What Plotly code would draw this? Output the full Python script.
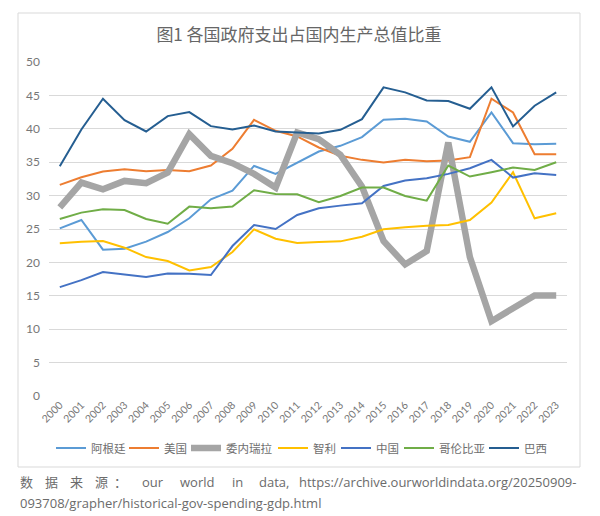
import plotly.graph_objects as go

years = [str(y) for y in range(2000, 2024)]

argentina = [25.1, 26.35, 21.9, 22.05, 23.1, 24.55, 26.6, 29.45, 30.75, 34.45, 33.25, 34.9,
             36.6, 37.45, 38.75, 41.35, 41.5, 41.1, 38.85, 38.05, 42.45, 37.85, 37.7, 37.75]
usa = [31.6, 32.75, 33.6, 33.95, 33.65, 33.85, 33.65, 34.5, 37.0, 41.35, 39.7, 38.85,
       37.2, 35.95, 35.35, 34.95, 35.35, 35.15, 35.25, 35.75, 44.5, 42.45, 36.2, 36.2]
venezuela = [28.25, 31.95, 30.95, 32.2, 31.85, 33.45, 39.2, 35.95, 34.85, 33.25, 31.2, 39.45,
             38.45, 36.1, 31.35, 23.2, 19.7, 21.7, 37.95, 20.8, 11.2, 13.05, 15.05, 15.05]
chile = [22.85, 23.1, 23.2, 22.2, 20.8, 20.2, 18.8, 19.3, 21.55, 24.95, 23.55, 22.9,
         23.05, 23.15, 23.85, 24.95, 25.25, 25.5, 25.6, 26.35, 28.95, 33.5, 26.6, 27.35]
china = [16.3, 17.35, 18.55, 18.15, 17.8, 18.35, 18.3, 18.1, 22.45, 25.6, 25.0, 27.1,
         28.1, 28.5, 28.85, 31.45, 32.25, 32.6, 33.25, 34.1, 35.35, 32.7, 33.35, 33.1]
colombia = [26.5, 27.45, 27.95, 27.85, 26.5, 25.8, 28.35, 28.1, 28.35, 30.8, 30.25, 30.2,
            29.0, 29.95, 31.2, 31.2, 29.95, 29.25, 34.5, 32.85, 33.5, 34.2, 33.85, 35.0]
brazil = [34.4, 39.9, 44.5, 41.3, 39.6, 41.9, 42.5, 40.4, 39.9, 40.5, 39.6, 39.45,
          39.3, 39.85, 41.45, 46.2, 45.45, 44.25, 44.15, 43.0, 46.2, 40.35, 43.45, 45.45]

series_names = ["阿根廷", "美国", "委内瑞拉", "智利", "中国", "哥伦比亚", "巴西"]
series_values = [argentina, usa, venezuela, chile, china, colombia, brazil]
series_colors = ["#5B9BD5", "#ED7D31", "#A5A5A5", "#FFC000", "#4472C4", "#70AD47", "#255E91"]
series_widths = [2, 2, 6.5, 2, 2, 2, 2]

title_text = "图1 各国政府支出占国内生产总值比重"
caption_line1 = ["数", "据", "来", "源", "：", "our", "world", "in", "data,"]
caption_url1 = "https://archive.ourworldindata.org/20250909-"
caption_line2 = "093708/grapher/historical-gov-spending-gdp.html"

FONT = "Lato, 'Noto Sans CJK SC', sans-serif"
CJK = "'Noto Sans CJK SC', Lato, sans-serif"
GRAY = "#6E6E6E"

# plot area geometry (pixels)
L, R, T, B = 49, 567, 62, 396
W, H = R - L, B - T


def px(x):
    return (x - L) / W


def py(y):
    return (B - y) / H


fig = go.Figure()
legend_ids = ["legend"] + ["legend%d" % i for i in range(2, len(series_names) + 1)]
for name, vals, col, w, lg in zip(series_names, series_values, series_colors,
                                  series_widths, legend_ids):
    fig.add_trace(go.Scatter(x=years, y=vals, name=name, mode="lines", legend=lg,
                             line=dict(color=col, width=w)))

# one single-item legend per series, laid out in a row like the reference
legend_line_starts = [60, 133, 195, 282, 345, 408, 493]
legend_layout = {}
for lg, x0 in zip(legend_ids, legend_line_starts):
    legend_layout[lg] = dict(orientation="h", xref="container", x=(x0 - 9) / 600,
                             xanchor="left", yref="container", y=1 - 448 / 516,
                             yanchor="middle", itemwidth=30, borderwidth=0,
                             font=dict(family=CJK, size=11.5, color=GRAY),
                             bgcolor="rgba(0,0,0,0)")

fig.update_layout(
    width=600, height=516,
    margin=dict(l=L, r=600 - R, t=T, b=516 - B, autoexpand=False),
    paper_bgcolor="white", plot_bgcolor="white",
    font=dict(family=FONT, color=GRAY),
    title=dict(text=title_text, x=299 / 600, xref="container", xanchor="center",
               y=1 - 35 / 516, yref="container", yanchor="middle",
               font=dict(family=CJK, size=17, color="#666666")),
    showlegend=True,
    xaxis=dict(type="category", range=[-0.5, 23.5], showgrid=False, showline=False,
               ticks="", tickangle=-45, tickfont=dict(size=10.5, color="#777777"),
               zeroline=False, automargin=False),
    yaxis=dict(range=[0, 50], dtick=5, showgrid=True, gridcolor="#D9D9D9", gridwidth=1,
               zeroline=False, showline=False, ticks="", ticklabelstandoff=8,
               tickfont=dict(size=12, color="#777777"), automargin=False),
    **legend_layout,
)

# chart border
fig.add_shape(type="rect", xref="paper", yref="paper",
              x0=px(18), x1=px(580), y0=py(467), y1=py(13),
              line=dict(color="#D9D9D9", width=1), fillcolor="rgba(0,0,0,0)", layer="below")

# caption (justified first line)
cap_font = dict(family="'Open Sans', 'Noto Sans CJK SC'", size=13, color="#6B6B6B")
cap_x = [18, 43, 68, 93, 112, 140, 178, 230, 257]
for word, x in zip(caption_line1, cap_x):
    fig.add_annotation(text=word, x=px(x), y=py(482), xref="paper", yref="paper",
                       xanchor="left", yanchor="middle", showarrow=False, font=cap_font)
fig.add_annotation(text=caption_url1, x=px(578), y=py(482), xref="paper", yref="paper",
                   xanchor="right", yanchor="middle", showarrow=False, font=cap_font)
fig.add_annotation(text=caption_line2, x=px(18), y=py(503), xref="paper", yref="paper",
                   xanchor="left", yanchor="middle", showarrow=False, font=cap_font)

fig.write_html("out.html")
